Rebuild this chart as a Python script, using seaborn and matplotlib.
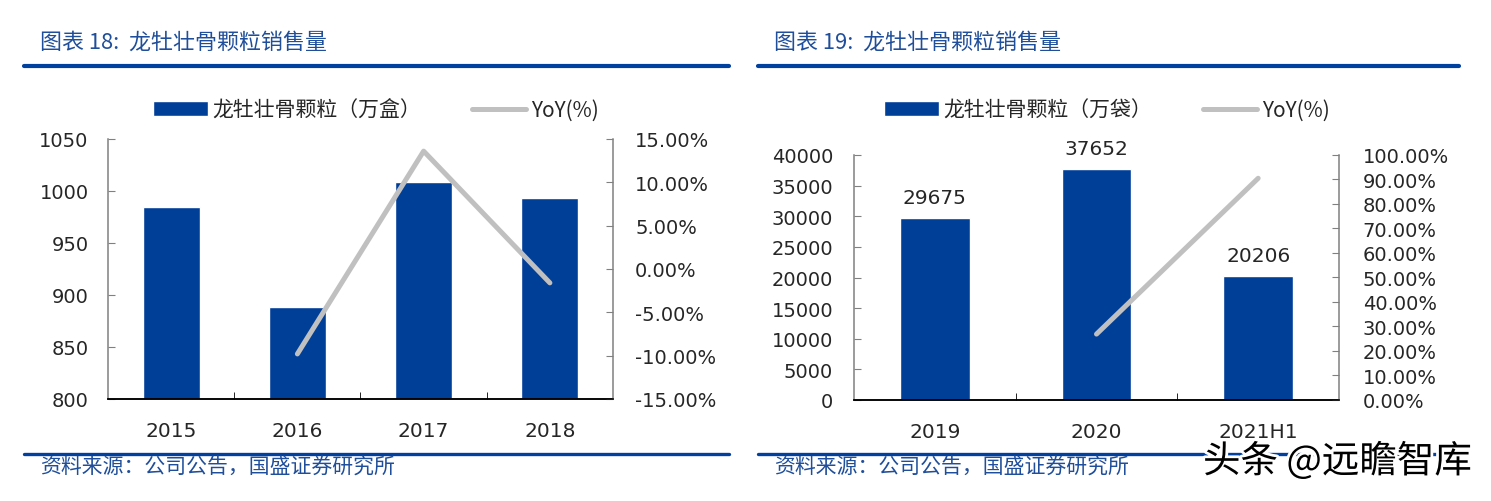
import numpy as np
import pandas as pd
import matplotlib
matplotlib.use('Agg')
import matplotlib.pyplot as plt
import matplotlib.patheffects as pe
from matplotlib.lines import Line2D
from matplotlib.patches import Patch
import seaborn as sns

# 图表18: 龙牡壮骨颗粒（万盒）
years_18 = ['2015', '2016', '2017', '2018']
sales_18 = [985, 888, 1009, 993]
yoy_years_18 = ['2016', '2017', '2018']
yoy_18 = [-9.8, 13.6, -1.6]

# 图表19: 龙牡壮骨颗粒（万袋）
years_19 = ['2019', '2020', '2021H1']
sales_19 = [29675, 37652, 20206]
yoy_years_19 = ['2020', '2021H1']
yoy_19 = [26.9, 90.5]

BLUE = '#003f98'
GREY = '#c0c0c0'
TXT_BLUE = '#1f4e9a'
RULE_BLUE = '#0041a0'
W, H = 1491, 502

sns.set_style('white')
plt.rcParams['font.family'] = ['DejaVu Sans', 'Noto Sans CJK SC']
cjk = ['Noto Sans CJK SC', 'DejaVu Sans']

fig = plt.figure(figsize=(W / 100, H / 100), dpi=100)


def fx(px):
    return px / W


def fy(py):
    return 1 - py / H


def panel(box, years, sales, yoy_years, yoy, ylim, ystep, y2lim, y2step,
          bar_w, unit, title, x_left, x_right, legend_x, label_bars, lpad, rpad):
    left, top, right, bottom = box
    ax = fig.add_axes([fx(left), fy(bottom), fx(right - left), (bottom - top) / H])
    df = pd.DataFrame({'year': years, 'sales': sales})
    sns.barplot(data=df, x='year', y='sales', color=BLUE, saturation=1,
                width=bar_w, ax=ax)
    ax.set_ylim(*ylim)
    ax.set_yticks(np.arange(ylim[0], ylim[1] + 1, ystep))
    ax.set_xlabel('')
    ax.set_ylabel('')
    if label_bars:
        ax.bar_label(ax.containers[0], padding=8, fontsize=14.5)

    ax2 = ax.twinx()
    pos = [years.index(y) for y in yoy_years]
    sns.lineplot(x=pos, y=yoy, color=GREY, lw=3.6, ax=ax2,
                 solid_capstyle='round')
    ax2.set_ylim(*y2lim)
    ax2.set_yticks(np.arange(y2lim[0], y2lim[1] + 0.01, y2step))
    ax2.yaxis.set_major_formatter(lambda v, p: f'{v:.2f}%')
    ax.set_xlim(-0.5, len(years) - 0.5)

    for a in (ax, ax2):
        a.spines['top'].set_visible(False)
        a.spines['bottom'].set_color('black')
        a.spines['bottom'].set_linewidth(1.1)
    ax.spines['right'].set_visible(False)
    ax2.spines['left'].set_visible(False)
    ax.spines['left'].set_color('#808080')
    ax2.spines['right'].set_color('#808080')
    ax.spines['left'].set_linewidth(1.1)
    ax2.spines['right'].set_linewidth(1.1)

    ax.tick_params(axis='y', left=True, direction='in', length=5,
                   color='#808080', pad=lpad, labelsize=14)
    ax2.tick_params(axis='y', right=True, direction='in', length=5,
                    color='#808080', pad=rpad, labelsize=14)
    ax.set_xticks(np.arange(0.5, len(years) - 1), minor=True)
    ax.tick_params(axis='x', which='major', bottom=False, length=0,
                   pad=16, labelsize=14.5)
    ax.tick_params(axis='x', which='minor', bottom=True, direction='in',
                   length=5, color='black')

    # header and footer
    fig.text(fx(x_left + 16), fy(43), title, family=cjk, style='italic',
             fontsize=15.8, color=TXT_BLUE, va='center', ha='left')
    fig.add_artist(Line2D([fx(x_left), fx(x_right)], [fy(67)] * 2,
                          color=RULE_BLUE, lw=3))
    fig.add_artist(Line2D([fx(x_left), fx(x_right)], [fy(455)] * 2,
                          color=RULE_BLUE, lw=2.4))
    fig.text(fx(x_left + 16), fy(468), '资料来源：公司公告，国盛证券研究所',
             family=cjk, style='italic', fontsize=15, color=TXT_BLUE,
             va='center', ha='left')

    handles = [Patch(facecolor=BLUE, label=f'龙牡壮骨颗粒（{unit}）'),
               Line2D([], [], color=GREY, lw=3.6, label='YoY(%)')]
    fig.legend(handles=handles, loc='center', bbox_to_anchor=(fx(legend_x), fy(111)),
               ncol=2, frameon=False, prop={'family': cjk, 'size': 15},
               handlelength=2.6, handleheight=0.75, handletextpad=0.25,
               columnspacing=2.4)
    return ax, ax2


panel((108, 140, 613, 400), years_18, sales_18, yoy_years_18, yoy_18,
      (800, 1050), 50, (-15, 15), 5, 0.45, '万盒', '图表 18:  龙牡壮骨颗粒销售量',
      24, 729, 376, False, 14, 16)

panel((854, 156, 1339, 401), years_19, sales_19, yoy_years_19, yoy_19,
      (0, 40000), 5000, (0, 100), 10, 0.43, '万袋', '图表 19:  龙牡壮骨颗粒销售量',
      758, 1459, 1107, True, 15, 17)

fig.text(fx(1203), fy(463), '头条 @远瞻智库', family=cjk, fontsize=27,
         color='black', va='center', ha='left',
         path_effects=[pe.withStroke(linewidth=4, foreground='white')])

fig.savefig('out.png', dpi=100)
